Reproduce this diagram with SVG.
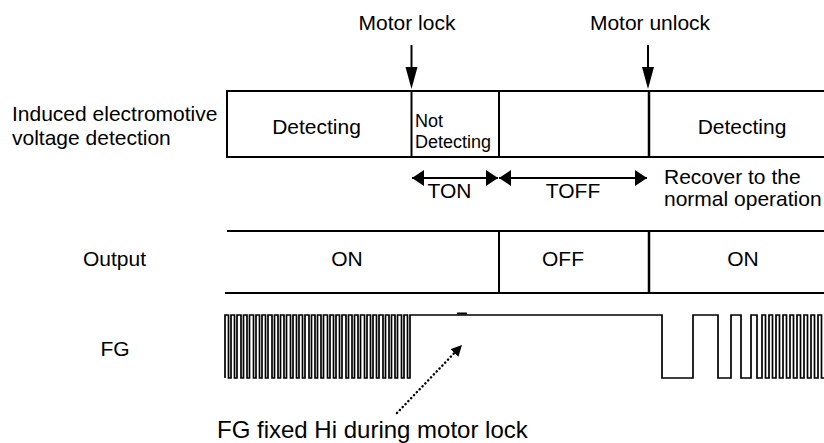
<svg xmlns="http://www.w3.org/2000/svg" width="824" height="443" viewBox="0 0 824 443">
<style>
text{font-family:"Liberation Sans",Arial,sans-serif;font-size:21px;fill:#000}
.sm{font-size:18px}
.big{font-size:24px}
.mid{text-anchor:middle}
.ln{stroke:#000;stroke-width:2;fill:none}
.thk{stroke:#000;stroke-width:2.5;fill:none}
.wave{stroke:#000;stroke-width:1.7;fill:none;stroke-linejoin:miter}
.dot{stroke:#000;stroke-width:2.5;stroke-dasharray:0.1 4;stroke-linecap:round;fill:none}
</style>
<defs>
<marker id="ah" viewBox="0 0 12 16" refX="12" refY="8" markerWidth="12" markerHeight="16" markerUnits="userSpaceOnUse" orient="auto-start-reverse">
<path d="M0,0 L12,8 L0,16 Z" fill="#000"/>
</marker>
<marker id="ahd" viewBox="0 0 11 11" refX="11" refY="5.5" markerWidth="11" markerHeight="11" markerUnits="userSpaceOnUse" orient="auto">
<path d="M0,0 L11,5.5 L0,11 Z" fill="#000"/>
</marker>
</defs>

<g id="labels">
<text x="12" y="121">Induced electromotive</text>
<text x="12" y="145">voltage detection</text>
<text x="114.5" y="266" class="mid">Output</text>
<text x="115" y="356" class="mid">FG</text>
</g>

<g id="event-lock">
<text x="407" y="30" class="mid">Motor lock</text>
<line x1="411.5" y1="45" x2="411.5" y2="68" class="ln"/>
<path d="M405.5,67 L417.5,67 L411.5,89 Z" fill="#000"/>
</g>
<g id="event-unlock">
<text x="650" y="30" class="mid">Motor unlock</text>
<line x1="648" y1="45" x2="648" y2="68" class="ln"/>
<path d="M642,67 L654,67 L648,89 Z" fill="#000"/>
</g>

<g id="detection-row">
<path d="M824,91 H227 V157 H824" class="ln"/>
<line x1="411.5" y1="91" x2="411.5" y2="157" class="ln"/>
<line x1="499" y1="91" x2="499" y2="157" class="ln"/>
<line x1="649" y1="91" x2="649" y2="157" class="thk"/>
<text x="316.5" y="134" class="mid">Detecting</text>
<text x="415" y="127" class="sm">Not</text>
<text x="415" y="148" class="sm">Detecting</text>
<text x="742" y="134" class="mid">Detecting</text>
</g>

<g id="timing">
<line x1="412" y1="178" x2="498" y2="178" class="ln" marker-start="url(#ah)" marker-end="url(#ah)"/>
<line x1="499" y1="178" x2="647" y2="178" class="ln" marker-start="url(#ah)" marker-end="url(#ah)"/>
<text x="449.5" y="198" class="mid">TON</text>
<text x="573" y="198" class="mid">TOFF</text>
<text x="664" y="184">Recover to the</text>
<text x="664" y="206">normal operation</text>
</g>

<g id="output-row">
<line x1="227" y1="231" x2="824" y2="231" class="ln"/>
<line x1="225" y1="293" x2="824" y2="293" class="ln"/>
<line x1="499" y1="231" x2="499" y2="293" class="ln"/>
<line x1="649" y1="231" x2="649" y2="293" class="thk"/>
<text x="347" y="266" class="mid">ON</text>
<text x="563" y="266" class="mid">OFF</text>
<text x="743" y="266" class="mid">ON</text>
</g>

<g id="fg-wave">
<path class="wave" d="M225,378 V315 h3.5 V378 h2.5 V315 h3.5 V378 h2.5 V315 h4 V378 h2.5 V315 h3.5 V378 h2.5 V315 h4 V378 h2.5 V315 h3.5 V378 h2.5 V315 h3.5 V378 h2.5 V315 h4 V378 h2.5 V315 h3.5 V378 h2.5 V315 h3.5 V378 h2.5 V315 h4 V378 h2.5 V315 h3.5 V378 h2.5 V315 h3.5 V378 h2.5 V315 h4 V378 h2.5 V315 h3.5 V378 h2.5 V315 h3.5 V378 h2.5 V315 h4 V378 h2.5 V315 h3.5 V378 h2.5 V315 h3.5 V378 h2.5 V315 h4 V378 h2.5 V315 h3.5 V378 h2.5 V315 h3.5 V378 h2.5 V315 h4 V378 h2.5 V315 h3.5 V378 h2.5 V315 h3.5 V378 h2.5 V315 h4 V378 h2.5 V315 h3.5 V378 h2.5 V315 h3.5 V378 h2.5 V315 h4 V378 h2.5 V315 h3.5 V378 h2.5 V315 H662 V378 H693 V315 H718 V378 H731 V315 H741 V378 H751 V315 H757 V378 H762 V315 H765.5 V378 H769 V315 H772.5 V378 H776 V315 H779.5 V378 H783 V315 H786.5 V378 H790 V315 H793.5 V378 H797 V315 H800.5 V378 H804 V315 H807.5 V378 H811 V315 H814.5 V378 H818 V315 H821.5 V378 H824"/>
<line x1="457" y1="313.5" x2="467" y2="313.5" stroke="#000" stroke-width="2"/>
</g>

<g id="note">
<line x1="397" y1="413" x2="462" y2="345" class="dot" marker-end="url(#ahd)"/>
<text x="217" y="438" class="big">FG fixed Hi during motor lock</text>
</g>
</svg>
